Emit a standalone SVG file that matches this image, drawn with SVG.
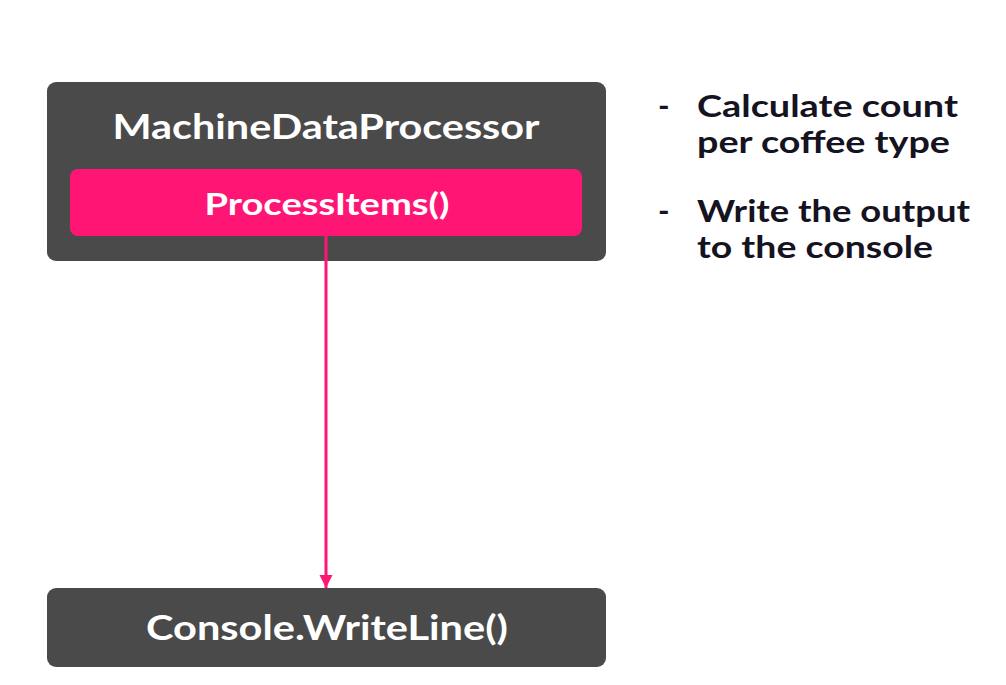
<svg xmlns="http://www.w3.org/2000/svg" width="1006" height="685" viewBox="0 0 1006 685">
<defs>
<style>
.box{fill:#4a4a4a}
.method{fill:#ff1675}
.lbl{font-family:"Lato","Liberation Sans",sans-serif;font-weight:bold;fill:#ffffff;text-anchor:middle}
.note{font-family:"Lato","Liberation Sans",sans-serif;font-weight:bold;fill:#15131f;font-size:31px}
.conn{stroke:#ff1675;stroke-width:3;fill:none}
</style>
<marker id="arr" viewBox="0 0 10 10" refX="10" refY="5" markerWidth="4.5" markerHeight="4.5" orient="auto" markerUnits="strokeWidth">
<path d="M0,0 L10,5 L0,10 z" fill="#ff1675"/>
</marker>
</defs>
<rect width="1006" height="685" fill="#ffffff"/>
<g id="machineDataProcessor">
<rect class="box" x="47" y="82" width="559" height="179" rx="9"/>
<text class="lbl" x="326" y="139" font-size="35" textLength="427" lengthAdjust="spacingAndGlyphs">MachineDataProcessor</text>
</g>
<g id="processItems">
<rect class="method" x="70" y="169" width="512" height="67" rx="8"/>
<text class="lbl" x="327" y="215" font-size="30" textLength="245" lengthAdjust="spacingAndGlyphs">ProcessItems()</text>
</g>
<g id="consoleWriteLine">
<rect class="box" x="47" y="588" width="559" height="79" rx="9"/>
<text class="lbl" x="327" y="640" font-size="34" textLength="362" lengthAdjust="spacingAndGlyphs">Console.WriteLine()</text>
</g>
<g id="notes">
<text class="note" x="658" y="117">-</text>
<text class="note" x="697" y="117" textLength="261" lengthAdjust="spacingAndGlyphs">Calculate count</text>
<text class="note" x="697" y="153" textLength="253" lengthAdjust="spacingAndGlyphs">per coffee type</text>
<text class="note" x="658" y="222">-</text>
<text class="note" x="697" y="222" textLength="273" lengthAdjust="spacingAndGlyphs">Write the output</text>
<text class="note" x="697" y="258" textLength="236" lengthAdjust="spacingAndGlyphs">to the console</text>
</g>
<g id="connectors">
<line class="conn" x1="326" y1="236" x2="326" y2="588" marker-end="url(#arr)"/>
</g>
</svg>
